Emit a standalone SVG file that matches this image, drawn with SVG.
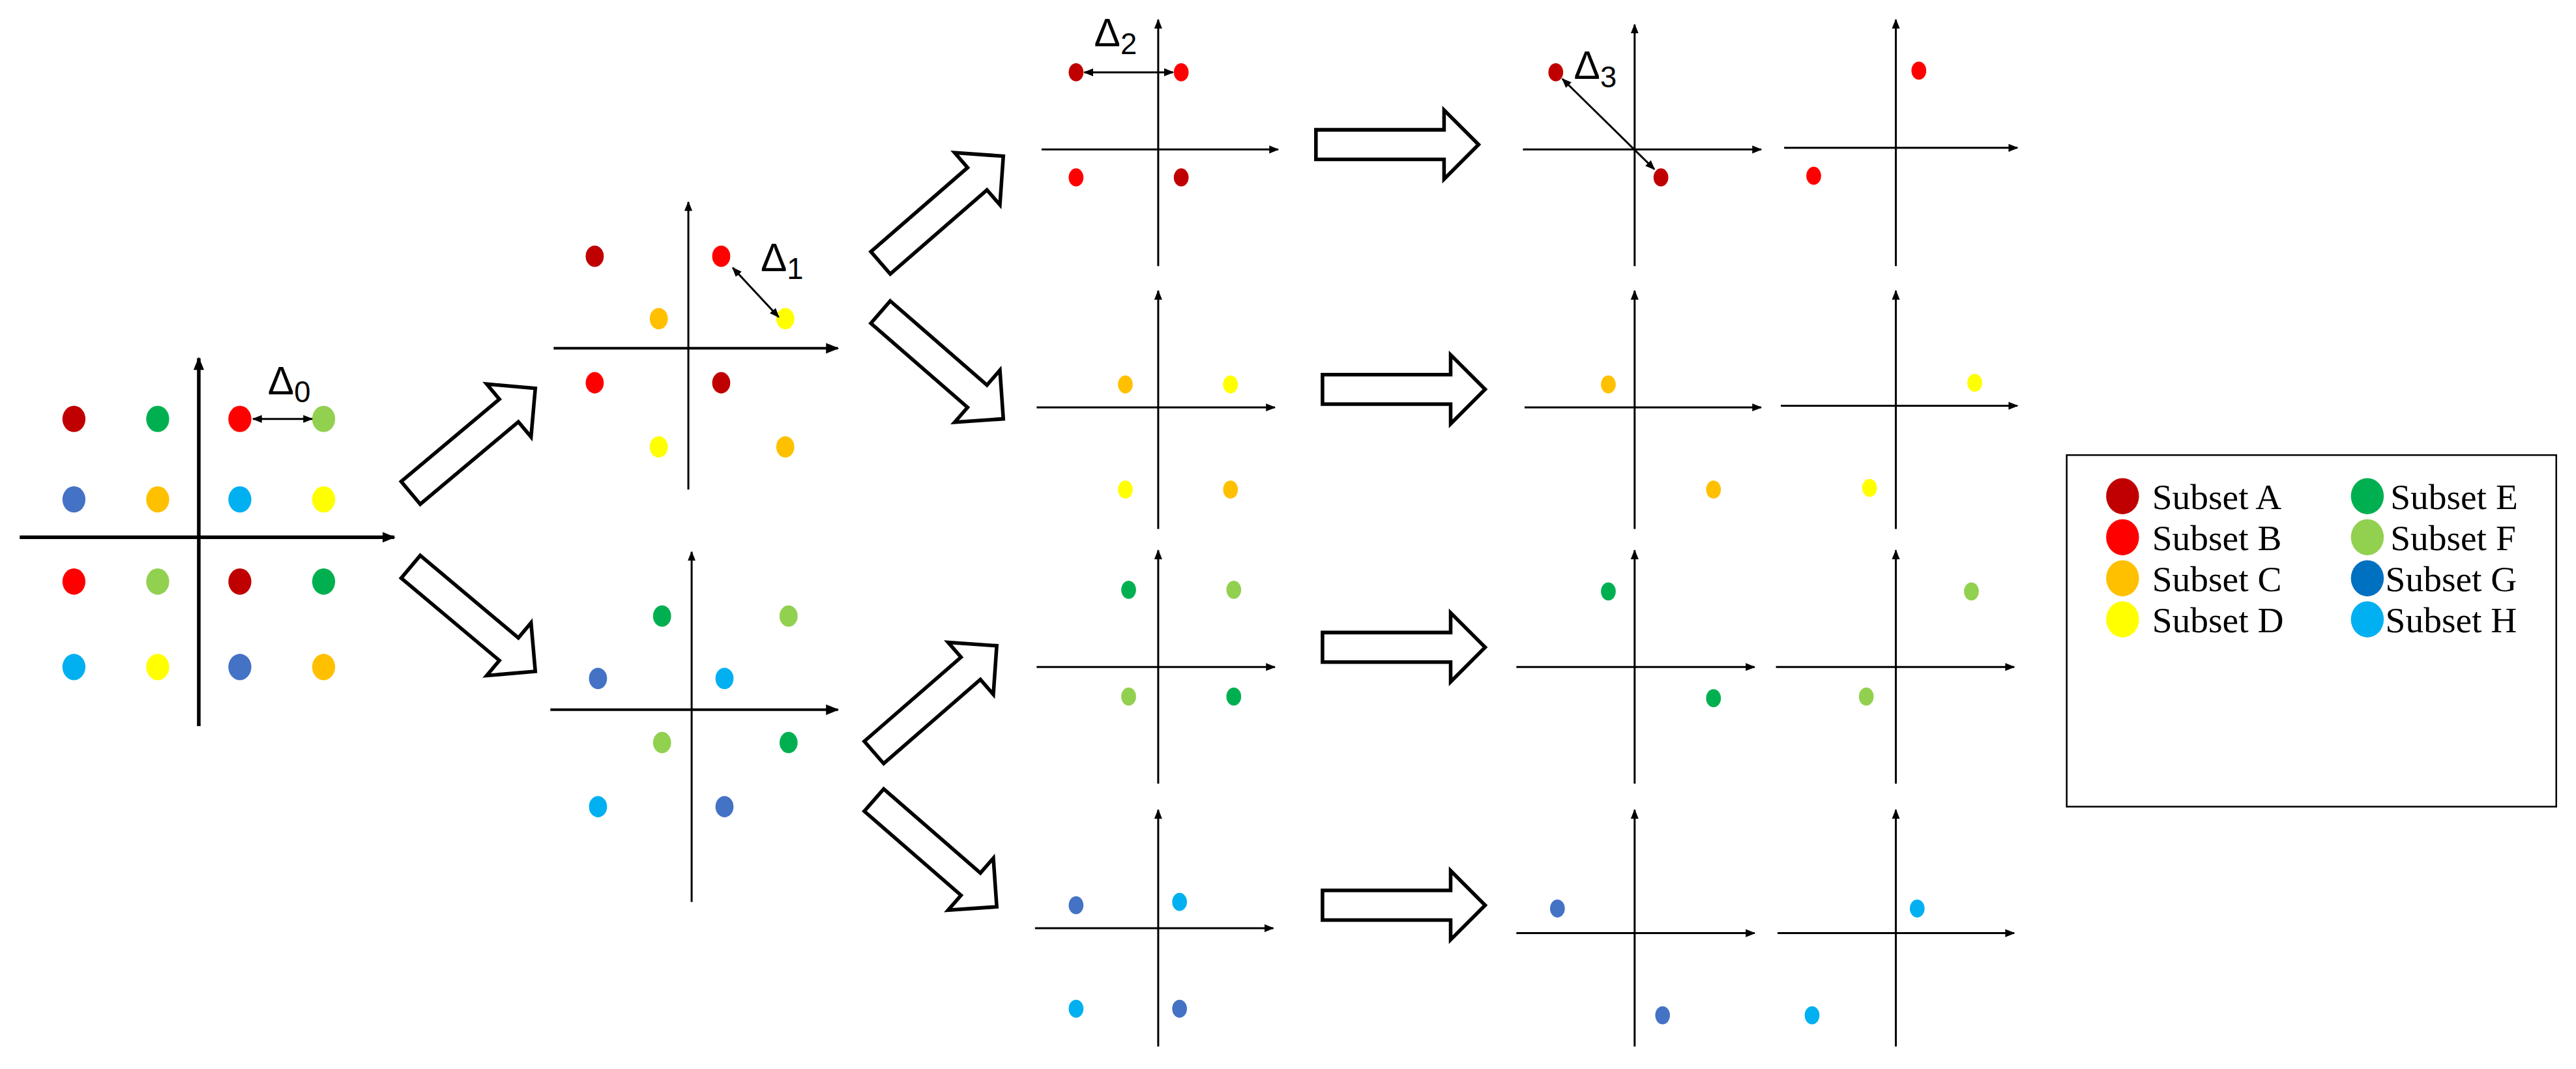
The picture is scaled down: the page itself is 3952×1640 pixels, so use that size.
<svg xmlns="http://www.w3.org/2000/svg" width="3952" height="1640" viewBox="0 0 3952 1640">
<defs>
<marker id="ah" viewBox="0 0 10 10" refX="9" refY="5" markerWidth="6" markerHeight="6" orient="auto-start-reverse" markerUnits="userSpaceOnUse"><path d="M0,1 L10,5 L0,9 Z" fill="#000"/></marker>
<marker id="ah2" viewBox="0 0 10 10" refX="9" refY="5" markerWidth="8" markerHeight="8" orient="auto-start-reverse" markerUnits="userSpaceOnUse"><path d="M0,1 L10,5 L0,9 Z" fill="#000"/></marker>
<path id="blk" d="M0,-9 L78,-9 L78,-21 L99,0 L78,21 L78,9 L0,9 Z"/>
</defs>
<style>
.ax{stroke:#000;stroke-width:1.2;fill:none;marker-end:url(#ah)}
.axb{stroke:#000;stroke-width:2.2;fill:none;marker-end:url(#ah2)}
.dim{stroke:#000;stroke-width:1.2;fill:none;marker-start:url(#ah);marker-end:url(#ah)}
.ba{fill:#fff;stroke:#000;stroke-width:2.2;stroke-linejoin:miter}
.A{fill:#C00000}.B{fill:#FF0000}.C{fill:#FFC000}.D{fill:#FFFF00}.E{fill:#00B050}.F{fill:#92D050}.G{fill:#4472C4}.H{fill:#00B0F0}
.lbl{font-family:"Liberation Sans","DejaVu Sans",sans-serif;font-size:24px;fill:#000}
.leg{font-family:"Liberation Serif","Times New Roman",serif;font-size:22px;fill:#000}
</style>
<rect width="3952" height="1640" fill="#fff"/>
<g transform="scale(2.5204)">
<g id="panel0">
<line class="axb" x1="121" y1="442" x2="121" y2="218"/>
<line class="axb" x1="12" y1="327" x2="240" y2="327"/>
<g>
<ellipse class="A" cx="45" cy="255" rx="7" ry="8"/><ellipse class="E" cx="96" cy="255" rx="7" ry="8"/><ellipse class="B" cx="146" cy="255" rx="7" ry="8"/><ellipse class="F" cx="197" cy="255" rx="7" ry="8"/>
<ellipse class="G" cx="45" cy="304" rx="7" ry="8"/><ellipse class="C" cx="96" cy="304" rx="7" ry="8"/><ellipse class="H" cx="146" cy="304" rx="7" ry="8"/><ellipse class="D" cx="197" cy="304" rx="7" ry="8"/>
<ellipse class="B" cx="45" cy="354" rx="7" ry="8"/><ellipse class="F" cx="96" cy="354" rx="7" ry="8"/><ellipse class="A" cx="146" cy="354" rx="7" ry="8"/><ellipse class="E" cx="197" cy="354" rx="7" ry="8"/>
<ellipse class="H" cx="45" cy="406" rx="7" ry="8"/><ellipse class="D" cx="96" cy="406" rx="7" ry="8"/><ellipse class="G" cx="146" cy="406" rx="7" ry="8"/><ellipse class="C" cx="197" cy="406" rx="7" ry="8"/>
</g>
<line class="dim" x1="154" y1="255" x2="190" y2="255"/>
<text class="lbl" x="163" y="240">Δ<tspan dy="5" font-size="18">0</tspan></text>
</g>
<g id="panel1">
<line class="ax" x1="419" y1="298" x2="419" y2="123"/>
<line class="axb" x1="337" y1="212" x2="510" y2="212" style="stroke-width:1.6"/>
<ellipse class="A" cx="362" cy="156" rx="5.5" ry="6.5"/><ellipse class="B" cx="439" cy="156" rx="5.5" ry="6.5"/>
<ellipse class="C" cx="401" cy="194" rx="5.5" ry="6.5"/><ellipse class="D" cx="478" cy="194" rx="5.5" ry="6.5"/>
<ellipse class="B" cx="362" cy="233" rx="5.5" ry="6.5"/><ellipse class="A" cx="439" cy="233" rx="5.5" ry="6.5"/>
<ellipse class="D" cx="401" cy="272" rx="5.5" ry="6.5"/><ellipse class="C" cx="478" cy="272" rx="5.5" ry="6.5"/>
<line class="dim" x1="446" y1="163" x2="474" y2="193"/>
<text class="lbl" x="463" y="165">Δ<tspan dy="5" font-size="18">1</tspan></text>
</g>
<g id="panel2">
<line class="ax" x1="421" y1="549" x2="421" y2="336"/>
<line class="axb" x1="335" y1="432" x2="510" y2="432" style="stroke-width:1.6"/>
<ellipse class="E" cx="403" cy="375" rx="5.5" ry="6.5"/><ellipse class="F" cx="480" cy="375" rx="5.5" ry="6.5"/>
<ellipse class="G" cx="364" cy="413" rx="5.5" ry="6.5"/><ellipse class="H" cx="441" cy="413" rx="5.5" ry="6.5"/>
<ellipse class="F" cx="403" cy="452" rx="5.5" ry="6.5"/><ellipse class="E" cx="480" cy="452" rx="5.5" ry="6.5"/>
<ellipse class="H" cx="364" cy="491" rx="5.5" ry="6.5"/><ellipse class="G" cx="441" cy="491" rx="5.5" ry="6.5"/>
</g>
<g id="c3r1">
<line class="ax" x1="705" y1="162" x2="705" y2="12"/><line class="ax" x1="634" y1="91" x2="778" y2="91"/>
<ellipse class="A" cx="655" cy="44" rx="4.5" ry="5.5"/><ellipse class="B" cx="719" cy="44" rx="4.5" ry="5.5"/>
<ellipse class="B" cx="655" cy="108" rx="4.5" ry="5.5"/><ellipse class="A" cx="719" cy="108" rx="4.5" ry="5.5"/>
<line class="dim" x1="660" y1="44" x2="714" y2="44"/>
<text class="lbl" x="666" y="28">Δ<tspan dy="5" font-size="18">2</tspan></text>
</g>
<g id="c3r2">
<line class="ax" x1="705" y1="322" x2="705" y2="177"/><line class="ax" x1="631" y1="248" x2="776" y2="248"/>
<ellipse class="C" cx="685" cy="234" rx="4.5" ry="5.5"/><ellipse class="D" cx="749" cy="234" rx="4.5" ry="5.5"/>
<ellipse class="D" cx="685" cy="298" rx="4.5" ry="5.5"/><ellipse class="C" cx="749" cy="298" rx="4.5" ry="5.5"/>
</g>
<g id="c3r3">
<line class="ax" x1="705" y1="477" x2="705" y2="335"/><line class="ax" x1="631" y1="406" x2="776" y2="406"/>
<ellipse class="E" cx="687" cy="359" rx="4.5" ry="5.5"/><ellipse class="F" cx="751" cy="359" rx="4.5" ry="5.5"/>
<ellipse class="F" cx="687" cy="424" rx="4.5" ry="5.5"/><ellipse class="E" cx="751" cy="424" rx="4.5" ry="5.5"/>
</g>
<g id="c3r4">
<line class="ax" x1="705" y1="637" x2="705" y2="493"/><line class="ax" x1="630" y1="565" x2="775" y2="565"/>
<ellipse class="G" cx="655" cy="551" rx="4.5" ry="5.5"/><ellipse class="H" cx="718" cy="549" rx="4.5" ry="5.5"/>
<ellipse class="H" cx="655" cy="614" rx="4.5" ry="5.5"/><ellipse class="G" cx="718" cy="614" rx="4.5" ry="5.5"/>
</g>
<g id="c4r1">
<line class="ax" x1="995" y1="162" x2="995" y2="15"/><line class="ax" x1="927" y1="91" x2="1072" y2="91"/>
<ellipse class="A" cx="947" cy="44" rx="4.5" ry="5.5"/><ellipse class="A" cx="1011" cy="108" rx="4.5" ry="5.5"/>
<line class="dim" x1="951" y1="48" x2="1007" y2="103"/>
<text class="lbl" x="958" y="48">Δ<tspan dy="5" font-size="18">3</tspan></text>
</g>
<g id="c4r2">
<line class="ax" x1="995" y1="322" x2="995" y2="177"/><line class="ax" x1="928" y1="248" x2="1072" y2="248"/>
<ellipse class="C" cx="979" cy="234" rx="4.5" ry="5.5"/><ellipse class="C" cx="1043" cy="298" rx="4.5" ry="5.5"/>
</g>
<g id="c4r3">
<line class="ax" x1="995" y1="477" x2="995" y2="335"/><line class="ax" x1="923" y1="406" x2="1068" y2="406"/>
<ellipse class="E" cx="979" cy="360" rx="4.5" ry="5.5"/><ellipse class="E" cx="1043" cy="425" rx="4.5" ry="5.5"/>
</g>
<g id="c4r4">
<line class="ax" x1="995" y1="637" x2="995" y2="493"/><line class="ax" x1="923" y1="568" x2="1068" y2="568"/>
<ellipse class="G" cx="948" cy="553" rx="4.5" ry="5.5"/><ellipse class="G" cx="1012" cy="618" rx="4.5" ry="5.5"/>
</g>
<g id="c5r1">
<line class="ax" x1="1154" y1="162" x2="1154" y2="12"/><line class="ax" x1="1086" y1="90" x2="1228" y2="90"/>
<ellipse class="B" cx="1168" cy="43" rx="4.5" ry="5.5"/><ellipse class="B" cx="1104" cy="107" rx="4.5" ry="5.5"/>
</g>
<g id="c5r2">
<line class="ax" x1="1154" y1="322" x2="1154" y2="177"/><line class="ax" x1="1084" y1="247" x2="1228" y2="247"/>
<ellipse class="D" cx="1202" cy="233" rx="4.5" ry="5.5"/><ellipse class="D" cx="1138" cy="297" rx="4.5" ry="5.5"/>
</g>
<g id="c5r3">
<line class="ax" x1="1154" y1="477" x2="1154" y2="335"/><line class="ax" x1="1081" y1="406" x2="1226" y2="406"/>
<ellipse class="F" cx="1200" cy="360" rx="4.5" ry="5.5"/><ellipse class="F" cx="1136" cy="424" rx="4.5" ry="5.5"/>
</g>
<g id="c5r4">
<line class="ax" x1="1154" y1="637" x2="1154" y2="493"/><line class="ax" x1="1082" y1="568" x2="1226" y2="568"/>
<ellipse class="H" cx="1167" cy="553" rx="4.5" ry="5.5"/><ellipse class="H" cx="1103" cy="618" rx="4.5" ry="5.5"/>
</g>
<g id="connectors">
<use href="#blk" class="ba" transform="translate(250,300) rotate(-40)"/>
<use href="#blk" class="ba" transform="translate(250,345) rotate(40)"/>
<use href="#blk" class="ba" transform="translate(536,160) rotate(-41)"/>
<use href="#blk" class="ba" transform="translate(536,190) rotate(41)"/>
<use href="#blk" class="ba" transform="translate(532,458) rotate(-41)"/>
<use href="#blk" class="ba" transform="translate(532,487) rotate(41)"/>
<use href="#blk" class="ba" transform="translate(801,88)"/>
<use href="#blk" class="ba" transform="translate(805,237)"/>
<use href="#blk" class="ba" transform="translate(805,394)"/>
<use href="#blk" class="ba" transform="translate(805,551)"/>
</g>
<g id="legend">
<rect x="1258" y="277" width="298" height="214" fill="#fff" stroke="#000" stroke-width="1"/>
<ellipse class="A" cx="1292" cy="302" rx="10" ry="11"/><text class="leg" x="1310" y="310">Subset A</text>
<ellipse class="B" cx="1292" cy="327" rx="10" ry="11"/><text class="leg" x="1310" y="335">Subset B</text>
<ellipse class="C" cx="1292" cy="352" rx="10" ry="11"/><text class="leg" x="1310" y="360">Subset C</text>
<ellipse class="D" cx="1292" cy="377" rx="10" ry="11"/><text class="leg" x="1310" y="385">Subset D</text>
<ellipse class="E" cx="1441" cy="302" rx="10" ry="11"/><text class="leg" x="1455" y="310">Subset E</text>
<ellipse fill="#92D050" cx="1441" cy="327" rx="10" ry="11"/><text class="leg" x="1455" y="335">Subset F</text>
<ellipse fill="#0070C0" cx="1441" cy="352" rx="10" ry="11"/><text class="leg" x="1452" y="360">Subset G</text>
<ellipse class="H" cx="1441" cy="377" rx="10" ry="11"/><text class="leg" x="1452" y="385">Subset H</text>
</g>
</g>
</svg>
